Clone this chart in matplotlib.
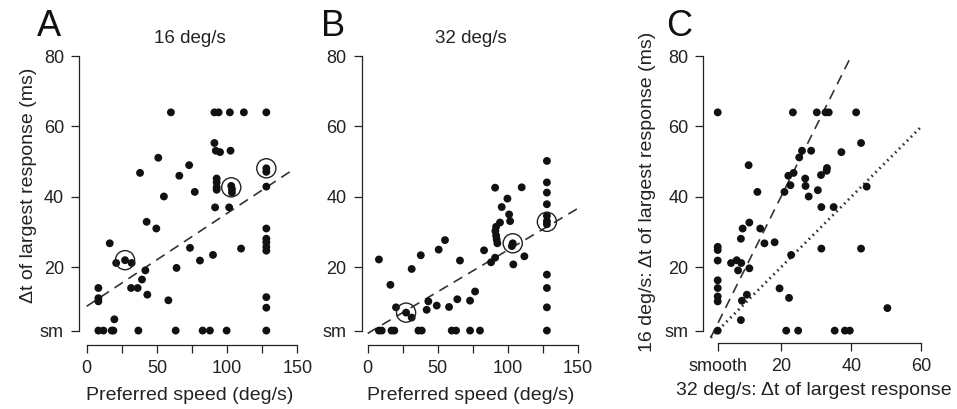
import numpy as np
import matplotlib.pyplot as plt

plt.rcParams['font.family'] = ['Liberation Sans', 'DejaVu Sans']

SM = 2  # position of the "smooth" category on the ms axes

# panel A: 16 deg/s
a_speed = [60, 91, 94, 102, 112, 128,
           91, 92, 95, 102.5, 51, 73, 38, 66, 128, 128,
           92.6, 92.6, 92.6, 92.6, 103, 103.5, 103.5, 77, 55, 128,
           91.5, 101.5, 42.7, 49.6, 128, 128, 128, 128, 128,
           16.4, 110, 73.6, 90, 80.7, 21, 27.3, 32,
           41.8, 64, 39.4, 31.6, 36.3, 43.2, 58.2,
           8.3, 8.3, 8.3, 128, 128, 19.7,
           8.3, 11.9, 17.8, 19, 36.8, 63.4, 82.6, 87.8, 99.7, 128]
a_dt = [64, 64, 64, 64, 64, 64,
        55.3, 53.1, 52.7, 53.1, 51.1, 49, 46.8, 46, 48.1, 47.1,
        45.2, 44.1, 42.7, 42, 43.1, 42.2, 41.2, 41.4, 40.1, 42.9,
        37, 37, 32.9, 31, 31, 28.1, 27.1, 25.8, 24.7,
        26.8, 25.3, 25.5, 23.5, 21.9, 21.2, 22, 21.2,
        19.1, 19.8, 16.5, 14.1, 14.1, 12.2, 10.6,
        14.1, 11.2, 10.3, 11.5, 8.5, 5.2,
        SM, SM, SM, SM, SM, SM, SM, SM, SM, SM]
a_circ_speed = [27.3, 103, 128]
a_circ_dt = [22, 42.7, 48.1]
a_fit = (0.264, 8.9, 146)  # slope, intercept, x end

# panel B: 32 deg/s
b_speed = [128, 128, 128, 128, 128, 128, 128,
           91, 110, 99.8, 95.7, 101, 101.7,
           94.5, 91.7, 91.2, 91.7, 92.1, 92.6,
           55.2, 50.7, 37.9, 8, 65.9, 83.1, 31.4,
           91, 88.1, 103.6, 103, 104, 111.9,
           16.2, 43.3, 42.1, 49.3, 58.1, 64, 76.7, 73.1,
           20.2, 27.4, 31.4, 128, 128, 128,
           8, 10, 17, 19, 36.2, 38.6, 60, 63.1, 73.1, 80.2, 128]
b_dt = [50.2, 44.1, 41.2, 37.9, 34.6, 33.1, 32.2,
        42.6, 42.7, 39.5, 37.1, 35, 33.1,
        32.7, 31.5, 30.3, 29, 27.9, 26.8,
        27.7, 25, 23.4, 22.2, 21.9, 24.8, 19.5,
        22.7, 21.4, 26.8, 26, 20.8, 23.1,
        15, 10.3, 7.9, 9.1, 8.7, 10.9, 13.1, 10.5,
        8.6, 7.1, 5.7, 17.9, 14.1, 8.6,
        SM, SM, SM, SM, SM, SM, SM, SM, SM, SM, SM]
b_circ_speed = [27.4, 103.6, 128]
b_circ_dt = [7.1, 26.8, 32.9]
b_fit = (0.2365, 1.2, 150.5)

# panel C: 32 deg/s (x) vs 16 deg/s (y)
c_dt32 = [SM, 23.4, 30.2, 32.7, 33.6, 41.4,
          42.8, 26, 28.6, 37.2, 25.2, 10.8,
          22.1, 23.6, 33.1, 33, 31.4, 26.9, 27, 22.7, 44.4, 30.5, 13.3, 21, 27.9, 31.5, 35,
          9.1, 11, 14.1, 8.6, 15.3, 18.2,
          SM, SM, SM, 31.5, 42.8, 22.9,
          5.8, 7.4, 8.7, 7.8, 11,
          SM, SM, SM, SM,
          19.6, 22.3, 10.3, 8.9, 8.6, 50.3,
          SM, 21.5, 24.9, 35.3, 38.2, 39.6]
c_dt16 = [64, 64, 64, 64, 64, 64,
          55.3, 53.1, 53.1, 52.7, 51.2, 49,
          46, 46.8, 48.2, 47.4, 46.2, 45.2, 43.1, 43.3, 42.9, 41.9, 41.4, 41.4, 40.1, 37.1, 37.1,
          31, 32.7, 31, 28.1, 26.8, 27.1,
          25.8, 24.9, 21.9, 25.3, 25.3, 23.5,
          21.2, 22, 21.2, 19.1, 19.7,
          16.3, 14.1, 11.7, 10.3,
          14, 11.3, 12.2, 10.5, 5, 8.4,
          SM, SM, SM, SM, SM, SM]

W, H = 957, 409
fig = plt.figure(figsize=(W / 100, H / 100), dpi=100)


def px_axes(l, r, t, b):
    return fig.add_axes([l / W, 1 - b / H, (r - l) / W, (b - t) / H])


def style(ax, xb):
    for s in ['top', 'right']:
        ax.spines[s].set_visible(False)
    for s in ['left', 'bottom']:
        ax.spines[s].set_linewidth(0.9)
        ax.spines[s].set_color('#222222')
    ax.spines['left'].set_bounds(SM, 80)
    ax.spines['bottom'].set_bounds(*xb)
    ax.set_yticks([SM, 20, 40, 60, 80])
    ax.set_yticklabels(['sm', '20', '40', '60', '80'])
    ax.tick_params(which='both', direction='out', length=5.8, width=0.9,
                   labelsize=13, pad=5, colors='#222222')


def speed_panel(ax, x, y, cx, cy, fit, title, xlo):
    style(ax, (0, 150))
    ax.set_xlim(xlo, 152)
    ax.set_ylim(-2.1, 82)
    ax.set_xticks([0, 50, 100, 150])
    ax.set_xticks([25, 75, 125], minor=True)
    ax.scatter(x, y, s=32, c='#111111', edgecolors='none', zorder=3)
    ax.scatter(cx, cy, s=190, facecolors='none', edgecolors='#222222',
               linewidths=1.0, zorder=4)
    k, b0, xe = fit
    fx = np.array([0, xe])
    ax.plot(fx, k * fx + b0, color='#333333', lw=1.2, dashes=(6, 4), zorder=2)
    ax.set_xlabel('Preferred speed (deg/s)', fontsize=14, color='#222222', labelpad=7)
    ax.set_title(title, fontsize=13.5, color='#222222', pad=4)


axA = px_axes(79, 300, 49, 345)
axB = px_axes(361.7, 580.5, 49, 345)
axC = px_axes(703.3, 925, 49, 343.3)

speed_panel(axA, a_speed, a_dt, a_circ_speed, a_circ_dt, a_fit, '16 deg/s', -5.5)
speed_panel(axB, b_speed, b_dt, b_circ_speed, b_circ_dt, b_fit, '32 deg/s', -4.3)
axA.set_ylabel('\u0394t of largest response (ms)', fontsize=14, color='#222222')
axA.yaxis.set_label_coords(-0.19, 0.54)

style(axC, (SM, 60))
axC.set_xlim(-2.1, 61)
axC.set_ylim(-1.6, 82)
axC.set_xticks([SM, 20, 40, 60])
axC.set_xticklabels(['smooth', '20', '40', '60'])
axC.scatter(c_dt32, c_dt16, s=32, c='#111111', edgecolors='none', zorder=3)
axC.plot([0, 40], [0, 80], color='#333333', lw=1.2, dashes=(6, 4), zorder=2)
axC.plot([0, 60], [0, 60], color='#333333', lw=2.0, dashes=(0.6, 1.4), zorder=2)
axC.set_xlabel('32 deg/s: \u0394t of largest response', fontsize=14, color='#222222', labelpad=5)
axC.set_ylabel('16 deg/s: \u0394t of largest response (ms)', fontsize=14, color='#222222')
axC.yaxis.set_label_coords(-0.213, 0.514)

for lbl, xp in [('A', 37), ('B', 321), ('C', 666)]:
    fig.text(xp / W, 1 - 36 / H, lbl, fontsize=26, color='#111111', ha='left', va='baseline')

fig.savefig('out.png', dpi=100)
